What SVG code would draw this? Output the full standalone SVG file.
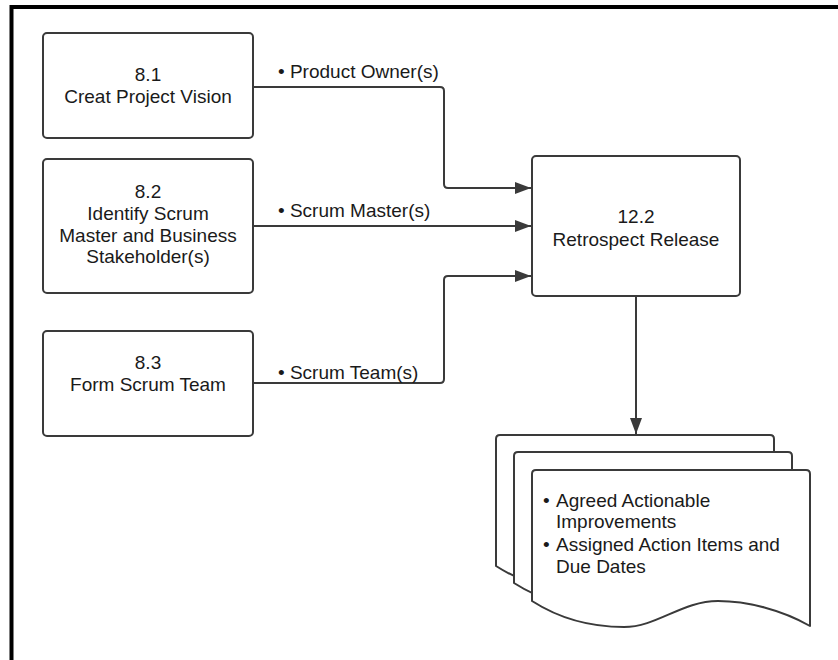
<svg xmlns="http://www.w3.org/2000/svg" width="838" height="660" viewBox="0 0 838 660">
<style>
.box{fill:#fff;stroke:#3a3a3a;stroke-width:2}
.doc{fill:#fff;stroke:#3a3a3a;stroke-width:2;stroke-linejoin:round}
.t{font-family:"Liberation Sans",Arial,sans-serif;font-size:19px;fill:#1a1a1a}
.c{text-anchor:middle}
.edge{fill:none;stroke:#3a3a3a;stroke-width:2}
</style>
<defs>
<marker id="arrw" viewBox="0 0 16 12" refX="16" refY="6" markerWidth="16" markerHeight="12" markerUnits="userSpaceOnUse" orient="auto">
<path d="M0,0 L16,6 L0,12 z" fill="#3a3a3a"/>
</marker>
<path id="docshape" d="M0,4 Q0,0 4,0 L274,0 Q278,0 278,4 L278,156 C250,140 215,131 186,131 C150,131 125,157 92,157 C55,157 25,147 0,131 Z"/>
</defs>
<rect width="838" height="660" fill="#fff"/>
<path d="M11.5,660 L11.5,7 L838,7" fill="none" stroke="#000" stroke-width="4"/>

<g id="n81">
<rect class="box" x="43" y="33" width="210" height="105" rx="4"/>
<text class="t c" x="148" y="81">8.1</text>
<text class="t c" x="148" y="103">Creat Project Vision</text>
</g>
<g id="n82">
<rect class="box" x="43" y="159" width="210" height="134" rx="4"/>
<text class="t c" x="148" y="198">8.2</text>
<text class="t c" x="148" y="220">Identify Scrum</text>
<text class="t c" x="148" y="242">Master and Business</text>
<text class="t c" x="148" y="263">Stakeholder(s)</text>
</g>
<g id="n83">
<rect class="box" x="43" y="331" width="210" height="105" rx="4"/>
<text class="t c" x="148" y="369">8.3</text>
<text class="t c" x="148" y="391">Form Scrum Team</text>
</g>
<g id="n122">
<rect class="box" x="532" y="156" width="208" height="140" rx="4"/>
<text class="t c" x="636" y="223">12.2</text>
<text class="t c" x="636" y="246">Retrospect Release</text>
</g>

<g id="connectors">
<path class="edge" d="M253,87 L440,87 Q444,87 444,91 L444,184 Q444,188 448,188 L531,188" marker-end="url(#arrw)"/>
<path class="edge" d="M253,226 L531,226" marker-end="url(#arrw)"/>
<path class="edge" d="M253,383 L440,383 Q444,383 444,379 L444,280 Q444,276 448,276 L531,276" marker-end="url(#arrw)"/>
<path class="edge" d="M636,296 L636,434" marker-end="url(#arrw)"/>
<text class="t" x="278" y="78">• Product Owner(s)</text>
<text class="t" x="278" y="217">• Scrum Master(s)</text>
<text class="t" x="278" y="379">• Scrum Team(s)</text>
</g>

<g id="outputs">
<use href="#docshape" class="doc" transform="translate(496,435)"/>
<use href="#docshape" class="doc" transform="translate(514,452)"/>
<use href="#docshape" class="doc" transform="translate(532,470)"/>
<text class="t" x="543" y="507">•</text>
<text class="t" x="556" y="507">Agreed Actionable</text>
<text class="t" x="556" y="528">Improvements</text>
<text class="t" x="543" y="551">•</text>
<text class="t" x="556" y="551">Assigned Action Items and</text>
<text class="t" x="556" y="573">Due Dates</text>
</g>
</svg>
